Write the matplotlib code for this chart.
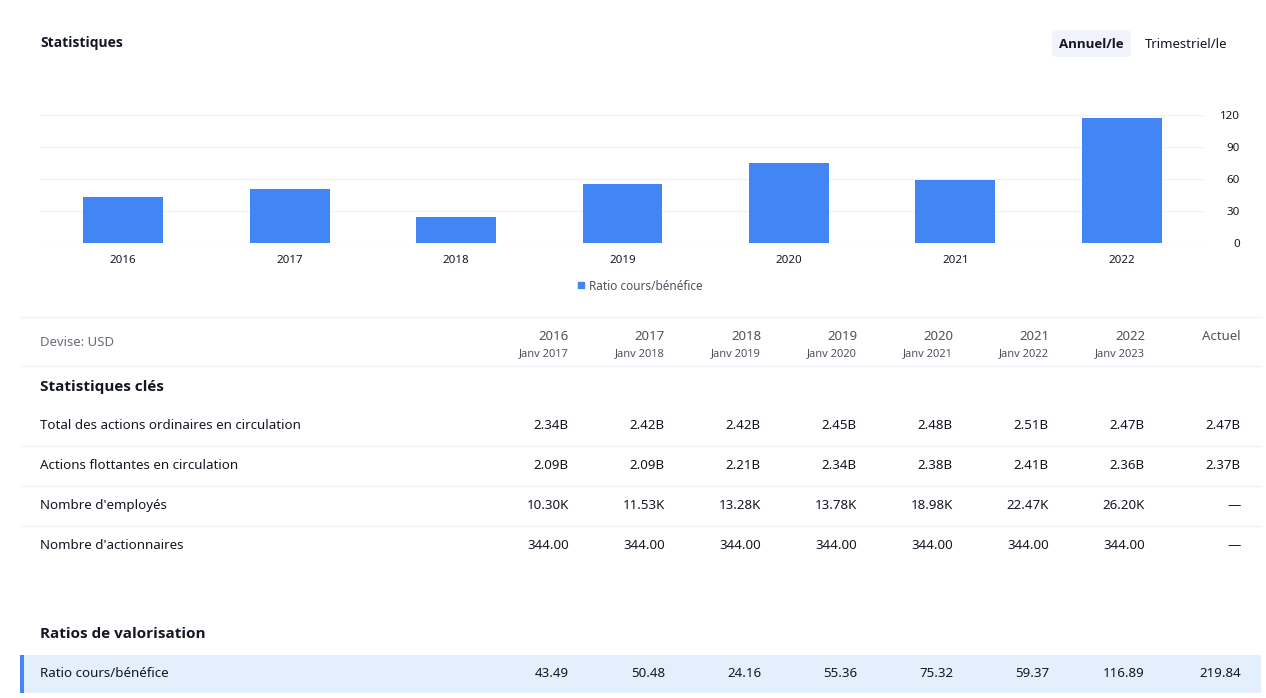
import matplotlib.pyplot as plt
from matplotlib.patches import FancyBboxPatch, Rectangle

plt.rcParams['font.family'] = ['Noto Sans', 'DejaVu Sans']
BOLD = ['Open Sans', 'DejaVu Sans']

# data
years = ['2016', '2017', '2018', '2019', '2020', '2021', '2022']
periods = ['Janv 2017', 'Janv 2018', 'Janv 2019', 'Janv 2020', 'Janv 2021', 'Janv 2022', 'Janv 2023']
pe_ratio = [43.49, 50.48, 24.16, 55.36, 75.32, 59.37, 116.89]
pe_current = 219.84
shares_out = ['2.34B', '2.42B', '2.42B', '2.45B', '2.48B', '2.51B', '2.47B', '2.47B']
float_out = ['2.09B', '2.09B', '2.21B', '2.34B', '2.38B', '2.41B', '2.36B', '2.37B']
employees = ['10.30K', '11.53K', '13.28K', '13.78K', '18.98K', '22.47K', '26.20K', '—']
holders = ['344.00', '344.00', '344.00', '344.00', '344.00', '344.00', '344.00', '—']
yticks = [0, 30, 60, 90, 120]

BLUE = '#4285f4'
TXT = '#131722'
GREY = '#50535e'
LINE = '#f0f3fa'

W, H = 1266, 698
fig = plt.figure(figsize=(W / 100, H / 100), dpi=100)
fig.patch.set_facecolor('white')

# overlay axes in pixel coords for all the text / table stuff
ov = fig.add_axes([0, 0, 1, 1])
ov.set_xlim(0, W)
ov.set_ylim(H, 0)
ov.axis('off')

# bar chart
ax = fig.add_axes([40 / W, 1 - 243 / H, (1205 - 40) / W, (243 - 115) / H])
x = list(range(len(years)))
ax.bar(x, pe_ratio, width=0.48, color=BLUE, zorder=3)
ax.set_xlim(-0.5, 6.5)
ax.set_ylim(0, 120)
ax.set_yticks(yticks)
ax.yaxis.tick_right()
ax.set_xticks(x)
ax.set_xticklabels(years)
ax.tick_params(length=0, labelsize=8.3, colors=TXT)
ax.tick_params(axis='y', pad=25)
ax.tick_params(axis='x', pad=8.5)
for lab in ax.get_yticklabels():
    lab.set_horizontalalignment('right')
for s in ax.spines.values():
    s.set_visible(False)
ax.grid(axis='y', color=LINE, lw=1, zorder=0)
ax.set_facecolor('none')

# legend
ov.add_patch(Rectangle((578, 282), 6, 6, color=BLUE))
ov.text(589, 286, 'Ratio cours/bénéfice', fontsize=8.5, color=GREY, va='center')


def t(x, y, s, **kw):
    # text helper, small downward nudge so Noto glyphs sit like the reference
    kw.setdefault('va', 'center')
    return ov.text(x, y + 1.5, s, **kw)


# header
t(40, 42, 'Statistiques', fontsize=10, fontweight='bold', family=BOLD, color=TXT)
ov.add_patch(FancyBboxPatch((1052, 30), 79, 27, boxstyle='round,pad=0,rounding_size=5',
                            fc=LINE, ec='none'))
t(1091.5, 43, 'Annuel/le', fontsize=9.5, fontweight='bold', family=BOLD, color=TXT, ha='center')
t(1145, 43, 'Trimestriel/le', fontsize=9.5, color=TXT)

# table
col_r = [569, 665, 761, 857, 953, 1049, 1145, 1241]
ov.plot([20, 1261], [317, 317], color=LINE, lw=1)
ov.plot([20, 1261], [366, 366], color=LINE, lw=1)
t(40, 341, 'Devise: USD', fontsize=9.5, color='#6a6d78')
for i, (yr, per) in enumerate(zip(years, periods)):
    t(col_r[i], 335, yr, fontsize=9.5, color=GREY, ha='right')
    t(col_r[i], 352, per, fontsize=8, color=GREY, ha='right')
t(col_r[7], 335, 'Actuel', fontsize=9.5, color=GREY, ha='right')

t(40, 385, 'Statistiques clés', fontsize=11, fontweight='bold', family=BOLD, color=TXT)

rows = [
    ('Total des actions ordinaires en circulation', shares_out),
    ('Actions flottantes en circulation', float_out),
    ("Nombre d'employés", employees),
    ("Nombre d'actionnaires", holders),
]
y0 = 424
for k, (name, vals) in enumerate(rows):
    yy = y0 + 40 * k
    t(40, yy, name, fontsize=9.6, color=TXT)
    for i, v in enumerate(vals):
        t(col_r[i], yy, v, fontsize=9.6, color=TXT, ha='right')
    if k < len(rows) - 1:
        ov.plot([20, 1261], [y0 + 22 + 40 * k] * 2, color=LINE, lw=1)

t(40, 633, 'Ratios de valorisation', fontsize=11, fontweight='bold', family=BOLD, color=TXT)
ov.add_patch(Rectangle((20, 655), 1241, 38, color='#e3effd', lw=0))
ov.add_patch(Rectangle((20, 655), 4, 38, color=BLUE, lw=0))
t(40, 672, 'Ratio cours/bénéfice', fontsize=9.6, color=TXT)
pe_row = ['%.2f' % v for v in pe_ratio] + ['%.2f' % pe_current]
for i, v in enumerate(pe_row):
    t(col_r[i], 672, v, fontsize=9.6, color=TXT, ha='right')

fig.savefig('out.png', dpi=100)
